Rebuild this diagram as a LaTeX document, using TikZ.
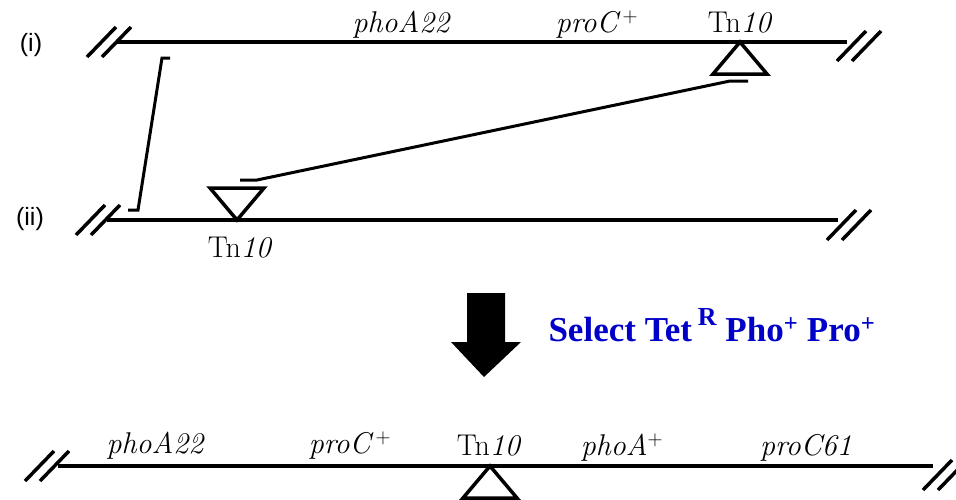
\documentclass[tikz,border=0pt]{standalone}
\usepackage{fontspec}
\newfontfamily\strandfont{Liberation Sans}
\newfontfamily\selfont{Liberation Serif}
\usetikzlibrary{positioning}
\definecolor{selblue}{RGB}{0,0,200}

\begin{document}
\begin{tikzpicture}[
    x=1pt, y=-1pt,
    chrom/.style={line width=3.5pt},
    xover/.style={line width=3pt},
    gene/.style={anchor=base, font=\fontsize{30}{34}\selectfont\itshape},
    tnlabel/.style={anchor=base, font=\fontsize{30}{34}\selectfont},
    strand/.style={anchor=base, font=\strandfont\fontsize{25}{29}\selectfont},
    cut/.pic={\draw[chrom] (-22,15) -- (7,-15) (-7,15) -- (22,-15);},
    tnup/.pic={\draw[chrom] (0,0) -- (-27,32) -- (27,32) -- cycle;},
    tndown/.pic={\draw[chrom] (0,0) -- (-27,-32) -- (27,-32) -- cycle;}
]
\useasboundingbox (0,0) rectangle (956,499);

% (i)
\node[strand] (si) at (31,51) {(i)};
\coordinate (i-l) at (117,42);
\coordinate (i-r) at (847,42);
\draw[chrom] (i-l) -- (i-r);
\pic at (109,42) {cut};
\pic at (859,46) {cut};
\node[gene] (pho1) at (401,32) {phoA22};
\node[gene] (pro1) at (597,32) {proC\,$^{+}$};
\node[tnlabel] (tn1) at (740,32) {Tn\textit{10}};
\pic at (740,42) {tnup};

% (ii)
\node[strand] (sii) at (30,225) {(ii)};
\coordinate (ii-l) at (107,220);
\coordinate (ii-r) at (838,220);
\draw[chrom] (ii-l) -- (ii-r);
\pic at (98,220) {cut};
\pic at (849,225) {cut};
\pic at (237,220) {tndown};
\node[tnlabel] (tn2) at (240,257) {Tn\textit{10}};

% crossovers
\coordinate (xa1) at (162,58);
\coordinate (xa2) at (138,210);
\draw[xover] (xa1) ++(8,0) -- (xa1) -- (xa2) -- ++(-10,0);
\coordinate (xb1) at (730,81);
\coordinate (xb2) at (257,180);
\draw[xover] (xb1) ++(18,0) -- (xb1) -- (xb2) -- ++(-17,0);

% selection
\fill (467,293) -- (505,293) -- (505,342) -- (521,342) -- (484,377)
      -- (451,342) -- (467,342) -- cycle;
\node[anchor=base west, text=selblue,
      font=\selfont\bfseries\fontsize{35}{40}\selectfont] (sel) at (545,341)
      {Select Tet\,\raisebox{0.45em}{\fontsize{26}{26}\selectfont R}
       Pho\textsuperscript{+} Pro\textsuperscript{+}};

% recombinant
\coordinate (iii-l) at (58,466);
\coordinate (iii-r) at (933,466);
\draw[chrom] (iii-l) -- (iii-r);
\pic at (47,466) {cut};
\pic at (945,475) {cut};
\pic at (490,466) {tnup};
\node[gene] (pho3) at (155,453) {phoA22};
\node[gene] (pro3) at (350,453) {proC\,$^{+}$};
\node[tnlabel] (tn3) at (489,455) {Tn\textit{10}};
\node[gene] (pho4) at (622,455) {phoA$^{+}$};
\node[gene] (pro4) at (806,455) {proC61};

\end{tikzpicture}
\end{document}
